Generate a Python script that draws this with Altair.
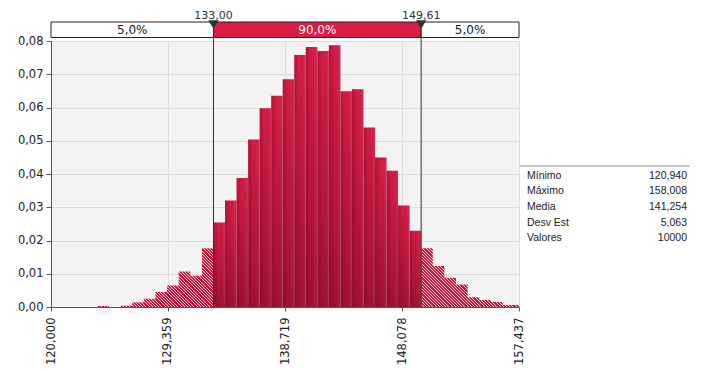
import altair as alt
import pandas as pd

# ---------------- data ----------------
# left tail (5%) bins
left_edges = [120.000, 120.929, 121.857, 122.786, 123.714, 124.643, 125.571,
              126.500, 127.429, 128.357, 129.286, 130.214, 131.143, 132.071]
left_end = 133.000
left_vals = [0.0, 0.0, 0.0, 0.0, 0.0003, 0.0, 0.0004, 0.0014, 0.0025,
             0.0045, 0.0065, 0.0107, 0.0094, 0.0177]

# central (90%) bins
mid_edges = [133.000, 133.923, 134.846, 135.768, 136.691, 137.614, 138.537,
             139.459, 140.382, 141.305, 142.228, 143.151, 144.073, 144.996,
             145.919, 146.842, 147.764, 148.687]
mid_end = 149.610
mid_vals = [0.0254, 0.0320, 0.0388, 0.0504, 0.0598, 0.0635, 0.0685, 0.0758,
            0.0782, 0.0770, 0.0787, 0.0649, 0.0655, 0.0540, 0.0450, 0.0410,
            0.0305, 0.0229]

# right tail (5%) bins
right_edges = [149.610, 150.540, 151.470, 152.400, 153.330, 154.260,
               155.190, 156.120, 157.050]
right_end = 157.437
right_vals = [0.0177, 0.0123, 0.0088, 0.0068, 0.0029, 0.0021, 0.0015,
              0.0006, 0.0006]

markers = [133.00, 149.61]
marker_labels = ["133,00", "149,61"]
band_start = [120.000, 133.00, 149.61]
band_end = [133.00, 149.61, 157.437]
band_labels = ["5,0%", "90,0%", "5,0%"]
band_kind = ["tail", "mid", "tail"]

x_ticks = [120.000, 129.359, 138.719, 148.078, 157.437]
y_ticks = [0.0, 0.01, 0.02, 0.03, 0.04, 0.05, 0.06, 0.07, 0.08]

stat_names = ["Mínimo", "Máximo", "Media", "Desv Est", "Valores"]
stat_values = ["120,940", "158,008", "141,254", "5,063", "10000"]

# ---------------- layout / style ----------------
PLOT_W, PLOT_H = 468, 266
X_MIN, X_MAX = x_ticks[0], x_ticks[-1]
Y_MAX = y_ticks[-1]
FONT = "DejaVu Sans"
RED = "#dc1c44"

xscale = alt.Scale(domain=[X_MIN, X_MAX], nice=False, zero=False, padding=0)
yscale = alt.Scale(domain=[0, Y_MAX], nice=False, padding=0)
xaxis = alt.Axis(values=x_ticks, title=None,
                 labelExpr="replace(format(datum.value, '.3f'), '.', ',')",
                 labelAngle=270, labelAlign="right", labelBaseline="middle",
                 labelPadding=6, tickSize=4, labelOverlap=False, labelFlush=False,
                 grid=True)
yaxis = alt.Axis(values=y_ticks, title=None,
                 labelExpr="replace(format(datum.value, '.2f'), '.', ',')",
                 tickSize=5, labelPadding=3, grid=True)


def X(field):
    return alt.X(field, type="quantitative", scale=xscale, axis=xaxis)


def Y(field):
    return alt.Y(field, type="quantitative", scale=yscale, axis=yaxis)


def hatch(width_px, height_px, period, c1, c2, frac):
    s = (width_px + height_px) / (width_px ** 2 + height_px ** 2)
    n = (width_px + height_px) / period
    stops = []
    i = 0
    while True:
        a, b, c = i / n, (i + frac) / n, (i + 1) / n
        for off, col in ((a, c1), (b, c1), (b, c2), (c, c2)):
            stops.append(alt.GradientStop(offset=min(off, 1.0), color=col))
        if c >= 1.0:
            break
        i += 1
    return alt.LinearGradient(gradient="linear", stops=stops,
                              x1=0, y1=1, x2=s * width_px, y2=1 - s * height_px)


px_per_unit = PLOT_W / (X_MAX - X_MIN)
px_per_val = PLOT_H / Y_MAX

# ---------------- tables ----------------
mid_df = pd.DataFrame({"x": mid_edges, "x2": mid_edges[1:] + [mid_end], "v": mid_vals,
                       "base": [0.0] * len(mid_vals)})
left_df = pd.DataFrame({"x": left_edges + [left_end], "v": left_vals + [left_vals[-1]]})
right_df = pd.DataFrame({"x": right_edges + [right_end], "v": right_vals + [right_vals[-1]]})
mark_df = pd.DataFrame({"x": markers, "label": marker_labels})
band_df = pd.DataFrame({"x": band_start, "x2": band_end, "label": band_labels,
                        "kind": band_kind,
                        "xm": [(a + b) / 2 for a, b in zip(band_start, band_end)]})
stats_df = pd.DataFrame({"row": list(range(len(stat_names))), "name": stat_names,
                         "val": stat_values})

# ---------------- layers ----------------
solid_grad = alt.LinearGradient(gradient="linear", x1=0, y1=0, x2=0, y2=1, stops=[
    alt.GradientStop(offset=0, color="#d41c46"),
    alt.GradientStop(offset=1, color="#a01032")])
shade_grad = alt.LinearGradient(gradient="linear", x1=0, y1=0, x2=1, y2=0, stops=[
    alt.GradientStop(offset=0, color="rgba(70,0,15,0.25)"),
    alt.GradientStop(offset=0.45, color="rgba(70,0,15,0.0)"),
    alt.GradientStop(offset=1, color="rgba(255,255,255,0.08)")])

solid = alt.Chart(mid_df).mark_bar(color=solid_grad, orient="vertical").encode(
    x=X("x"), x2="x2", y=Y("v"), y2="base")
solid_shade = alt.Chart(mid_df).mark_bar(color=shade_grad, orient="vertical").encode(
    x=X("x"), x2="x2", y=Y("v"), y2="base")

left_w = (left_end - left_edges[0]) * px_per_unit
left_h = max(left_vals) * px_per_val
right_w = (right_end - right_edges[0]) * px_per_unit
right_h = max(right_vals) * px_per_val

left_area = alt.Chart(left_df).mark_area(
    interpolate="step-after",
    color=hatch(left_w, left_h, 3.2, "#c5153d", "#f6ccd5", 0.65)
).encode(x=X("x"), y=Y("v"))
right_area = alt.Chart(right_df).mark_area(
    interpolate="step-after",
    color=hatch(right_w, right_h, 3.2, "#c5153d", "#f6ccd5", 0.65)
).encode(x=X("x"), y=Y("v"))

vlines = alt.Chart(mark_df).mark_rule(color="#333333", strokeWidth=1).encode(
    x=X("x"), y=alt.value(-19), y2=alt.value(PLOT_H))

band = alt.Chart(band_df).mark_rect(stroke="#222222", strokeWidth=1).encode(
    x=X("x"), x2="x2", y=alt.value(-19), y2=alt.value(-3.5),
    fill=alt.Fill("kind:N", scale=alt.Scale(domain=["tail", "mid"], range=["#ffffff", RED]),
                  legend=None))
band_text = alt.Chart(band_df).mark_text(font=FONT, fontSize=12, baseline="middle").encode(
    x=X("xm"), y=alt.value(-11.5),
    text="label:N",
    color=alt.Color("kind:N", scale=alt.Scale(domain=["tail", "mid"], range=["#222222", "#ffffff"]),
                    legend=None))

tri = alt.Chart(mark_df).mark_point(shape="M-1,-0.8L1,-0.8L0,0.8Z", size=110, filled=True,
                                    opacity=1, color="#333333").encode(
    x=X("x"), y=alt.value(-16.5))
tri_text = alt.Chart(mark_df).mark_text(font=FONT, fontSize=11, baseline="alphabetic",
                                        color="#333333").encode(
    x=X("x"), y=alt.value(-22), text="label:N")

main = alt.layer(left_area, right_area, solid, solid_shade, vlines, band, band_text, tri, tri_text)

stat_y = alt.Y("row:Q", scale=alt.Scale(domain=[0, len(stat_names) - 1], range=[134.7, 197.3]),
               axis=None)
stats_rule = alt.Chart(stats_df).mark_rule(color="#c8c8c8", strokeWidth=2).encode(
    x=alt.value(469), x2=alt.value(639), y=alt.value(125))
stats_names_t = alt.Chart(stats_df).mark_text(font="Liberation Sans", fontSize=10.5,
                                              align="left", baseline="middle",
                                              color="#222222").encode(
    x=alt.value(476), y=stat_y, text="name:N")
stats_vals_t = alt.Chart(stats_df).mark_text(font="Liberation Sans", fontSize=10.5,
                                             align="right", baseline="middle",
                                             color="#222222").encode(
    x=alt.value(636), y=stat_y, text="val:N")
stats = alt.layer(stats_rule, stats_names_t, stats_vals_t)

chart = alt.layer(main, stats).resolve_scale(y="independent").properties(
    width=PLOT_W, height=PLOT_H,
    padding={"left": 43, "top": 33, "right": 180, "bottom": 61},
    autosize=alt.AutoSizeParams(type="none"),
    background="#ffffff",
).configure_view(fill="#f3f3f3", stroke="#e2e2e2").configure_axis(
    labelFont=FONT, labelFontSize=11.5, labelColor="#222222",
    domainColor="#555555", tickColor="#555555", gridColor="#dcdcdc", gridWidth=1,
)

chart.save("out.html", embed_options={"renderer": "svg", "actions": False})
